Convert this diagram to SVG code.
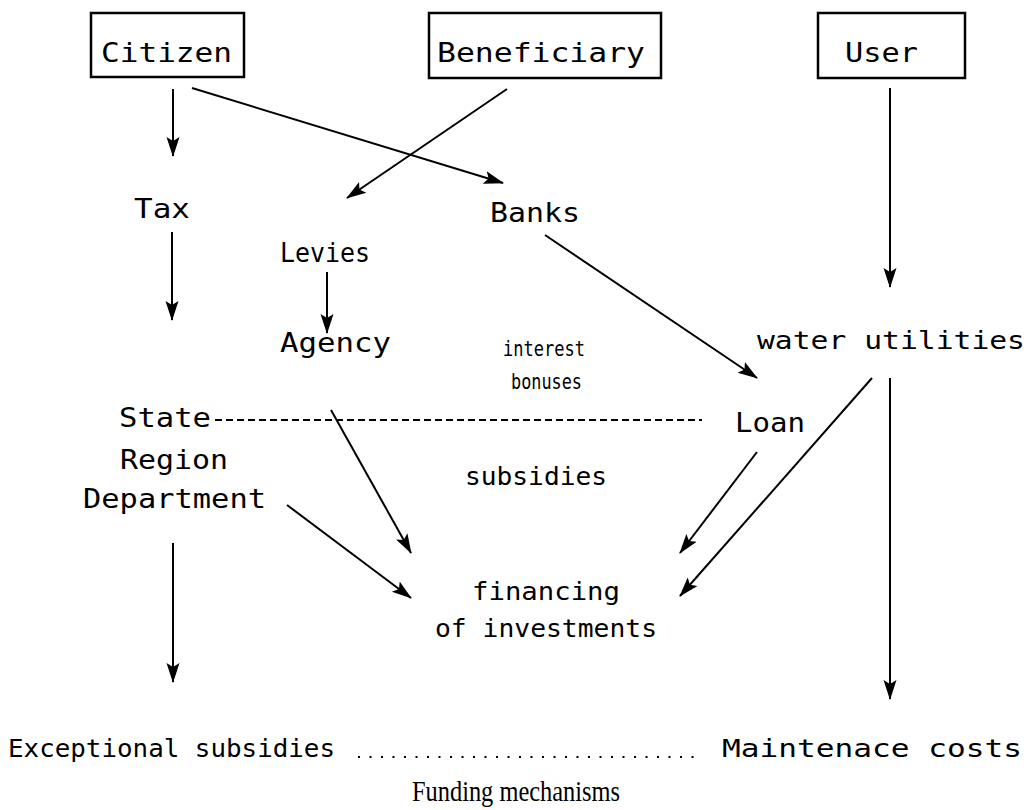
<svg xmlns="http://www.w3.org/2000/svg" width="1031" height="810" viewBox="0 0 1031 810">
<defs>
<style>
.t{font-family:"DejaVu Sans Mono","Liberation Mono",monospace;font-size:26px;fill:#000}
.s{font-family:"DejaVu Sans Mono","Liberation Mono",monospace;font-size:24px;fill:#000}
.m{font-family:"DejaVu Sans Mono","Liberation Mono",monospace;font-size:21px;fill:#000}
.box{fill:#fff;stroke:#000;stroke-width:2.5}
.c{stroke:#000;stroke-width:2;fill:none}
.a{marker-end:url(#ah)}
.cap{font-family:"Liberation Serif","Times New Roman",serif;font-size:30px;fill:#000}
</style>
<marker id="ah" markerUnits="userSpaceOnUse" markerWidth="20" markerHeight="16" viewBox="0 0 20 16" refX="19" refY="8" orient="auto">
<path d="M0,1.5 L20,8 L0,14.5 L4,8 Z" fill="#000"/>
</marker>
</defs>
<rect width="1031" height="810" fill="#fff"/>
<g id="citizen"><rect class="box" x="91" y="13" width="153" height="64"/><text class="t" x="101" y="62" textLength="131" lengthAdjust="spacingAndGlyphs">Citizen</text></g>
<g id="beneficiary"><rect class="box" x="429" y="13" width="232" height="65"/><text class="t" x="437" y="62" textLength="208" lengthAdjust="spacingAndGlyphs">Beneficiary</text></g>
<g id="user"><rect class="box" x="818" y="13" width="147" height="65"/><text class="t" x="845" y="62" textLength="73" lengthAdjust="spacingAndGlyphs">User</text></g>
<g id="tax"><text class="t" x="134" y="218" textLength="56" lengthAdjust="spacingAndGlyphs">Tax</text></g>
<g id="banks"><text class="t" x="490" y="222" textLength="90" lengthAdjust="spacingAndGlyphs">Banks</text></g>
<g id="levies"><text class="t" x="280" y="262" textLength="90" lengthAdjust="spacingAndGlyphs">Levies</text></g>
<g id="agency"><text class="t" x="280" y="352" textLength="111" lengthAdjust="spacingAndGlyphs">Agency</text></g>
<g id="interest"><text class="m" x="503" y="356" textLength="82" lengthAdjust="spacingAndGlyphs">interest</text><text class="m" x="511" y="389" textLength="71" lengthAdjust="spacingAndGlyphs">bonuses</text></g>
<g id="water"><text class="s" x="757" y="349" textLength="268" lengthAdjust="spacingAndGlyphs">water utilities</text></g>
<g id="state"><text class="t" x="119" y="427" textLength="92" lengthAdjust="spacingAndGlyphs">State</text><text class="t" x="120" y="469" textLength="108" lengthAdjust="spacingAndGlyphs">Region</text><text class="t" x="83" y="508" textLength="183" lengthAdjust="spacingAndGlyphs">Department</text></g>
<g id="loan"><text class="t" x="735" y="432" textLength="70" lengthAdjust="spacingAndGlyphs">Loan</text></g>
<g id="subsidies"><text class="s" x="465" y="485" textLength="142" lengthAdjust="spacingAndGlyphs">subsidies</text></g>
<g id="financing"><text class="s" x="472" y="600" textLength="148" lengthAdjust="spacingAndGlyphs">financing</text><text class="s" x="435" y="637" textLength="222" lengthAdjust="spacingAndGlyphs">of investments</text></g>
<g id="exceptional"><text class="s" x="8" y="757" textLength="327" lengthAdjust="spacingAndGlyphs">Exceptional subsidies</text></g>
<g id="maintenance"><text class="s" x="722" y="757" textLength="300" lengthAdjust="spacingAndGlyphs">Maintenace costs</text></g>
<g id="connectors">
<line class="c a" x1="173" y1="89" x2="173" y2="156"/>
<line class="c a" x1="192" y1="88" x2="503" y2="183"/>
<line class="c a" x1="507" y1="89" x2="347" y2="198"/>
<line class="c a" x1="890" y1="88" x2="890" y2="287"/>
<line class="c a" x1="172" y1="232" x2="172" y2="320"/>
<line class="c a" x1="327" y1="272" x2="327" y2="333"/>
<line class="c a" x1="545" y1="235" x2="757" y2="378"/>
<line class="c" x1="215" y1="420" x2="702" y2="420" stroke-dasharray="7,4"/>
<line class="c a" x1="331" y1="410" x2="411" y2="553"/>
<line class="c a" x1="287" y1="505" x2="411" y2="598"/>
<line class="c a" x1="757" y1="452" x2="680" y2="553"/>
<line class="c a" x1="872" y1="378" x2="680" y2="596"/>
<line class="c a" x1="890" y1="378" x2="890" y2="699"/>
<line class="c a" x1="173" y1="543" x2="173" y2="682"/>
<line class="c" x1="358" y1="757" x2="700" y2="757" stroke-dasharray="2,9.5" stroke-width="2.5"/>
</g>
<text class="cap" x="516" y="801" text-anchor="middle" textLength="208" lengthAdjust="spacingAndGlyphs">Funding mechanisms</text>
</svg>
